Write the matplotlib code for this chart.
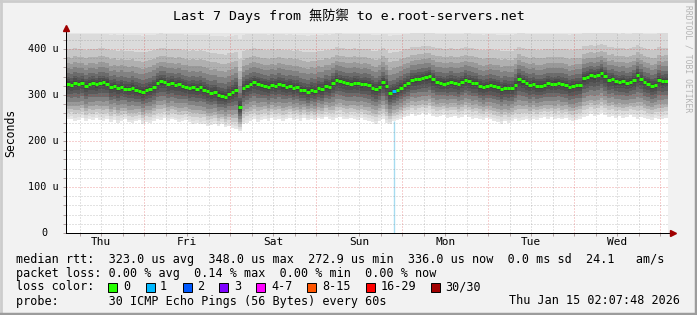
import numpy as np
import matplotlib
matplotlib.use("Agg")
import matplotlib.pyplot as plt
from matplotlib.patches import Rectangle
from matplotlib.transforms import blended_transform_factory

W, H = 697, 315

title = "Last 7 Days from 無防禦 to e.root-servers.net"
t_start = 2.13  # hours after Thu 00:00 (02:07:48)

# hourly median rtt (us), one row per day from the window start
median = [
    325, 322, 327, 324, 326, 320, 324, 326, 323, 327, 328, 325, 317, 319, 315, 318, 314, 313, 316, 311, 309, 307, 310, 313,
    318, 326, 330, 329, 324, 326, 322, 324, 320, 318, 315, 317, 314, 317, 312, 308, 304, 306, 300, 298, 296, 302, 306, 311,
    273, 315, 320, 324, 328, 325, 322, 320, 318, 322, 320, 324, 321, 318, 320, 316, 317, 312, 310, 307, 311, 309, 315, 313,
    320, 318, 326, 333, 330, 328, 326, 324, 327, 326, 323, 324, 322, 316, 313, 318, 328, 320, 304, 308, 311, 316, 322, 326,
    333, 334, 336, 337, 339, 341, 334, 328, 327, 325, 326, 329, 326, 324, 328, 333, 330, 327, 326, 320, 317, 319, 322, 320,
    318, 313, 316, 315, 315, 322, 335, 330, 326, 322, 324, 320, 320, 322, 326, 324, 325, 326, 324, 322, 317, 320, 322, 322,
    337, 340, 343, 341, 344, 348, 342, 333, 335, 330, 328, 330, 326, 328, 333, 343, 336, 328, 325, 320, 322, 333, 330, 331,
]

# lowest ping of the smoke per hour (us)
smoke_low = [
    247, 249, 244, 246, 250, 243, 248, 245, 250, 246, 244, 248, 242, 246, 240, 244, 247, 241, 239, 243, 245, 238, 241, 240,
    244, 248, 246, 250, 243, 247, 245, 241, 244, 246, 242, 238, 240, 236, 238, 233, 235, 237, 232, 236, 230, 233, 228, 226,
    222, 236, 240, 244, 247, 242, 246, 249, 244, 250, 246, 248, 243, 247, 250, 245, 248, 244, 251, 246, 249, 245, 250, 247,
    252, 248, 246, 250, 253, 249, 247, 251, 248, 246, 250, 245, 243, 241, 238, 244, 247, 240, 236, 243, 246, 249, 252, 255,
    258, 254, 257, 260, 256, 261, 255, 252, 254, 257, 251, 253, 255, 250, 252, 256, 253, 248, 251, 249, 246, 250, 247, 244,
    241, 238, 243, 239, 244, 247, 243, 245, 248, 244, 249, 246, 250, 253, 249, 252, 248, 251, 247, 250, 246, 243, 245, 248,
    252, 255, 258, 254, 257, 260, 256, 253, 255, 251, 254, 250, 253, 256, 252, 249, 253, 251, 248, 246, 250, 247, 249, 251,
]
smoke_top = 460

loss_idx = [91]
loss_cnt = [1]

day_names = ["Thu", "Fri", "Sat", "Sun", "Mon", "Tue", "Wed"]
y_ticks = [0, 100, 200, 300, 400]

loss_labels = ["0", "1", "2", "3", "4-7", "8-15", "16-29", "30/30"]
loss_colors = ["#26ff00", "#00b8ff", "#0059ff", "#7e00ff", "#ff00ff", "#ff5500", "#ff0000", "#a00000"]

legend_rows = [
    "median rtt:  323.0 us avg  348.0 us max  272.9 us min  336.0 us now  0.0 ms sd  24.1   am/s",
    "packet loss: 0.00 % avg  0.14 % max  0.00 % min  0.00 % now",
    "loss color:",
    "probe:       30 ICMP Echo Pings (56 Bytes) every 60s",
]
stamp = "Thu Jan 15 02:07:48 2026"

mono = "DejaVu Sans Mono"
plt.rcParams["font.family"] = [mono, "Noto Sans CJK SC"]


def fx(px):
    return px / W


def fy(py):
    return 1 - py / H


fig = plt.figure(figsize=(W / 100, H / 100), dpi=100)
fig.patch.set_facecolor("#f2f2f2")

ax = fig.add_axes([fx(66), fy(233), 602 / W, 200 / H])
ax.set_facecolor("white")

m = np.array(median, float)
lo = np.array(smoke_low, float)
n = len(m)
t = t_start + np.arange(n + 1)


def ext(a):
    return np.append(a, a[-1])


# smoke layers, widest/lightest first: (share below median, share above, grey)
layers = [
    (1.00, 1.00, 0.90),
    (0.92, 0.80, 0.86),
    (0.82, 0.56, 0.78),
    (0.72, 0.43, 0.69),
    (0.62, 0.33, 0.60),
    (0.50, 0.25, 0.51),
    (0.38, 0.17, 0.42),
    (0.28, 0.11, 0.35),
    (0.18, 0.07, 0.30),
    (0.09, 0.035, 0.26),
]
for f_lo, f_hi, g in layers:
    low = m - (m - lo) * f_lo
    high = m + (smoke_top - m) * f_hi
    ax.fill_between(t, ext(low), ext(high), step="post", color=(g, g, g), lw=0, zorder=1)

# loss bars
for i, c in zip(loss_idx, loss_cnt):
    ax.vlines(t[i] + 0.5, 0, lo[i], color="#a6dcf0", lw=1.0, zorder=2)

# grid
for v in range(20, 435, 20):
    col = (0.85, 0.2, 0.2, 0.45) if v % 100 == 0 else (0.5, 0.5, 0.5, 0.45)
    ax.axhline(v, color=col, lw=0.72, ls=(0, (1, 2)), zorder=3)
for hh in range(6, 171, 6):
    if hh < t_start:
        continue
    col = (0.85, 0.2, 0.2, 0.45) if hh % 24 == 0 else (0.5, 0.5, 0.5, 0.45)
    ax.axvline(hh, color=col, lw=0.72, ls=(0, (1, 2)), zorder=3)

# median, coloured by loss
med_col = ["#26ff00"] * n
for i, c in zip(loss_idx, loss_cnt):
    med_col[i] = loss_colors[c]
ax.hlines(m, t[:-1], t[1:], colors=med_col, lw=2.2, zorder=4)

ax.set_xlim(t_start, t_start + 168)
ax.set_ylim(0, 435)

for s in ["top", "right"]:
    ax.spines[s].set_visible(False)
for s in ["left", "bottom"]:
    ax.spines[s].set_color("black")
    ax.spines[s].set_linewidth(0.72)
    ax.spines[s].set_zorder(5)

ax.set_xticks([h for h in range(6, 171, 6) if h > t_start])
ax.set_yticks(range(0, 435, 20))
ax.tick_params(length=2.5, width=0.72, color="#b0a0a0", labelbottom=False, labelleft=False)

# axis arrows
ax.plot([0, 0], [1, 1.025], color="black", lw=0.72, transform=ax.transAxes, clip_on=False)
ax.plot([1, 1.008], [0, 0], color="black", lw=0.72, transform=ax.transAxes, clip_on=False)
ax.plot([0], [1.025], marker="^", ms=4, color="#a00000", transform=ax.transAxes, clip_on=False)
ax.plot([1.008], [0], marker=">", ms=4, color="#a00000", transform=ax.transAxes, clip_on=False)

# tick labels
ytr = blended_transform_factory(fig.transFigure, ax.transData)
for v in y_ticks:
    if v:
        ax.text(fx(59), v, f"{v} u", transform=ytr, ha="right", va="center", fontsize=7.3, family=mono)
    else:
        ax.text(fx(48), v, "0", transform=ytr, ha="right", va="center", fontsize=7.3, family=mono)
xtr = blended_transform_factory(ax.transData, fig.transFigure)
for k, d in enumerate(day_names):
    ax.text(12 + 24 * k, fy(242), d, transform=xtr, ha="center", va="center", fontsize=8, family=mono)

fig.text(fx(11), fy(133), "Seconds", rotation=90, ha="center", va="center", fontsize=8.3, family=mono)
fig.text(0.5, fy(16), title, ha="center", va="center", fontsize=9.5)
fig.text(fx(688), fy(5), "RRDTOOL / TOBI OETIKER", rotation=270, ha="center", va="top",
         fontsize=5.8, color="#b4b4b4", family=mono)

# legend
row_y = [259, 273, 287, 301]
for txt, yy in zip(legend_rows, row_y):
    fig.text(fx(16), fy(yy), txt, ha="left", va="center", fontsize=8.5, family=mono)
sq_x = [108, 146, 183, 219, 256, 307, 366, 431]
lab_x = [123, 160, 197, 234, 271, 322, 381, 445]
for sx, lx, lab, col in zip(sq_x, lab_x, loss_labels, loss_colors):
    fig.add_artist(Rectangle((fx(sx), fy(292)), 9 / W, 9 / H, transform=fig.transFigure,
                             facecolor=col, edgecolor="black", lw=0.7))
    fig.text(fx(lx), fy(287), lab, ha="left", va="center", fontsize=8.5, family=mono)
fig.text(fx(680), fy(301), stamp, ha="right", va="center", fontsize=8.5, family=mono)

# frame
fig.add_artist(plt.Line2D([0, 1], [1 - 1 / H, 1 - 1 / H], transform=fig.transFigure, color="#cccccc", lw=2))
fig.add_artist(plt.Line2D([1 / W, 1 / W], [0, 1], transform=fig.transFigure, color="#cccccc", lw=2))
fig.add_artist(plt.Line2D([0, 1], [1.5 / H, 1.5 / H], transform=fig.transFigure, color="#9c9c9c", lw=2.5))
fig.add_artist(plt.Line2D([1 - 1.5 / W, 1 - 1.5 / W], [0, 1], transform=fig.transFigure, color="#9c9c9c", lw=2.5))

fig.savefig("out.png", dpi=100, facecolor=fig.get_facecolor())
